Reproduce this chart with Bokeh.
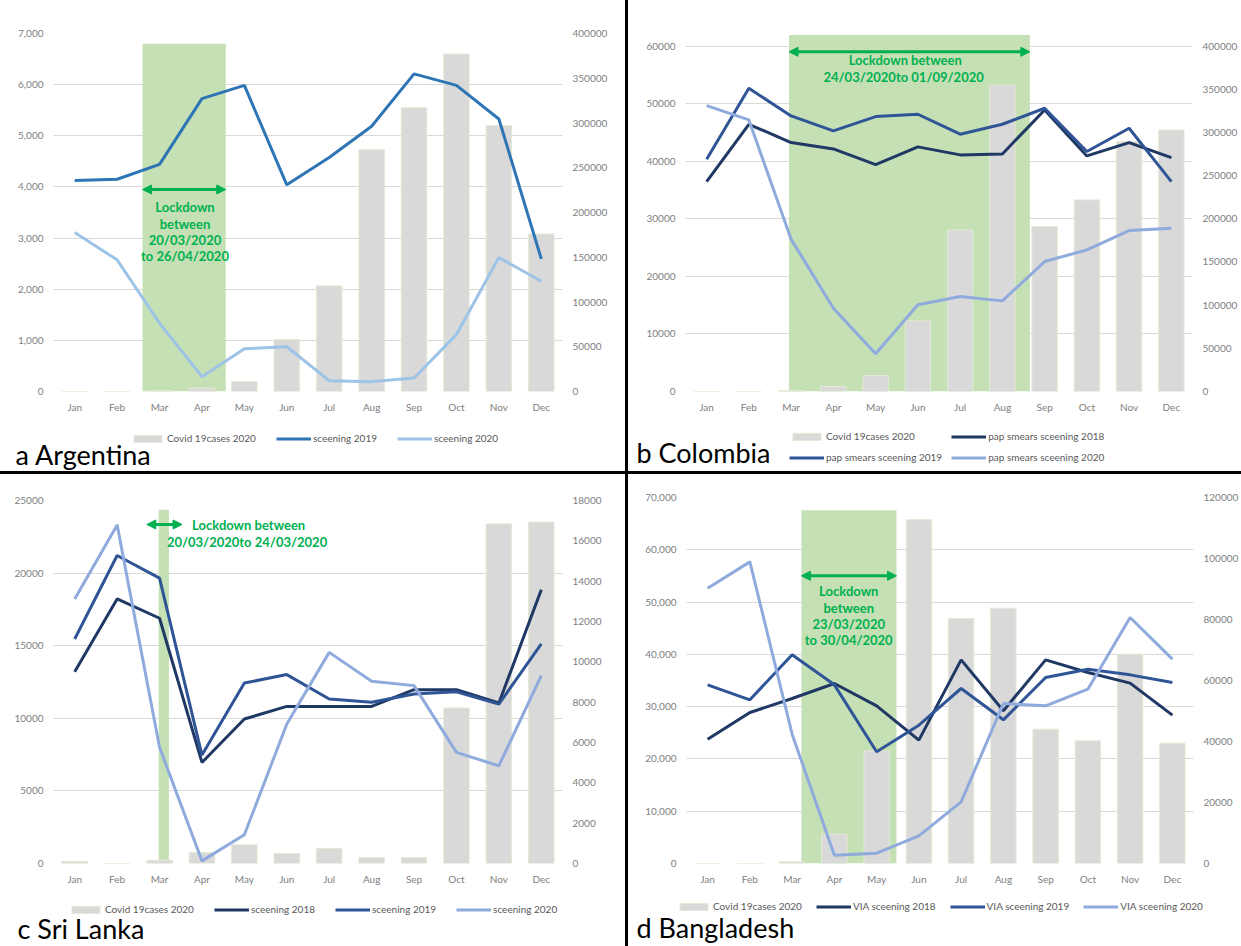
from bokeh.plotting import figure
from bokeh.models import (FactorRange, Range1d, LinearAxis, FixedTicker, NumeralTickFormatter,
                          BasicTickFormatter, Legend, LegendItem, Label, Arrow, NormalHead, Div)
from bokeh.layouts import row, column
from bokeh.embed import file_html
from bokeh.resources import INLINE

# ---------------- data ----------------
months = ["Jan", "Feb", "Mar", "Apr", "May", "Jun", "Jul", "Aug", "Sep", "Oct", "Nov", "Dec"]

# a Argentina
arg_covid_cases_2020 = [0, 0, 1000, 4000, 11000, 58000, 118000, 270000, 317000, 377000, 297000, 176000]
arg_screening_2019 = [4125, 4150, 4440, 5727, 5985, 4041, 4575, 5187, 6210, 5985, 5328, 2593]
arg_screening_2020 = [3108, 2574, 1338, 290, 836, 875, 212, 193, 264, 1113, 2619, 2156]

# b Colombia
col_covid_cases_2020 = [0, 0, 1000, 5800, 18500, 81800, 187000, 354900, 190900, 221800, 289300, 302800]
col_pap_2018 = [36460, 46410, 43230, 42130, 39410, 42480, 41090, 41260, 48900, 40910, 43230, 40620]
col_pap_2019 = [40330, 52660, 47860, 45250, 47740, 48150, 44680, 46410, 49190, 41670, 45720, 36460]
col_pap_2020 = [49650, 47160, 26450, 14470, 6540, 15050, 16490, 15740, 22570, 24600, 27950, 28360]

# c Sri Lanka
sl_covid_cases_2020 = [100, 0, 165, 546, 927, 496, 745, 298, 298, 7710, 16840, 16930]
sl_screening_2018 = [13210, 18220, 16890, 6960, 9950, 10820, 10820, 10820, 11970, 11970, 11050, 18860]
sl_screening_2019 = [15460, 21210, 19650, 7470, 12430, 13010, 11330, 11100, 11670, 11830, 10980, 15120]
sl_screening_2020 = [18220, 23320, 8000, 180, 1980, 9600, 14540, 12550, 12250, 7650, 6730, 12940]

# d Bangladesh
bd_covid_cases_2020 = [0, 0, 550, 9620, 36940, 112700, 80330, 83720, 44040, 40220, 68630, 39450]
bd_via_2018 = [23780, 28880, 31560, 34430, 30150, 23590, 38950, 29200, 38950, 36530, 34490, 28370]
bd_via_2019 = [34170, 31300, 39910, 34170, 21360, 26460, 33470, 27480, 35570, 37170, 36080, 34620]
bd_via_2020 = [52660, 57690, 24740, 1590, 1980, 5290, 11790, 30600, 30150, 33340, 47050, 39080]

# ---------------- styles ----------------
FONT = "Lato"
GREEN = "#00b050"
BOX_GREEN = "#c5e0b4"
BAR_GREY = "#d9d9d9"
BAR_EDGE = "#e3e9d4"
C2018 = "#1f3864"
C2019 = "#2f5597"
C2020 = "#8faadc"
A2019 = "#2e75b6"
A2020 = "#9dc3e6"
BAR_LABEL = "Covid 19cases 2020"
AXIS_H = 28


def make_panel(cfg):
    # ---- main chart ----
    p = figure(x_range=FactorRange(*months), y_range=Range1d(0, cfg["left_end"]),
               frame_width=cfg["fw"], frame_height=cfg["fh"], output_backend="svg",
               toolbar_location=None, min_border_left=cfg["bl"],
               min_border_right=cfg["width"] - cfg["bl"] - cfg["fw"],
               min_border_top=cfg["bt"], min_border_bottom=AXIS_H, frame_align=False)
    right_end = cfg["right_max"] * cfg["left_end"] / cfg["left_max"]
    p.extra_y_ranges = {"right": Range1d(0, right_end)}
    p.outline_line_color = None

    lt = FixedTicker(ticks=cfg["left_ticks"])
    p.yaxis.ticker = lt
    p.yaxis.formatter = NumeralTickFormatter(format="0,0") if cfg["commas"] else BasicTickFormatter(use_scientific=False)
    ra = LinearAxis(y_range_name="right", ticker=FixedTicker(ticks=cfg["right_ticks"]),
                    formatter=BasicTickFormatter(use_scientific=False))
    p.add_layout(ra, "right")
    for ax in [p.xaxis[0], p.yaxis[0], ra]:
        ax.axis_line_color = None
        ax.major_tick_line_color = None
        ax.minor_tick_line_color = None
        ax.major_tick_out = 0
        ax.major_tick_in = 0
        ax.minor_tick_out = 0
        ax.minor_tick_in = 0
        ax.major_label_text_color = "#808080"
        ax.major_label_text_font = FONT
        ax.major_label_text_font_size = "10px"
        ax.major_label_standoff = 10
    p.xaxis.major_label_standoff = 9
    p.xgrid.grid_line_color = None
    p.ygrid.ticker = lt
    p.ygrid.grid_line_color = "#d9d9d9"
    p.ygrid.grid_line_width = 1

    lk = cfg["lockdown"]
    p.quad(left=lk["left"], right=lk["right"], bottom=0, top=lk["top"],
           fill_color=BOX_GREEN, line_color=None)
    p.vbar(x=months, top=cfg["bars"], width=0.6, y_range_name="right",
           fill_color=BAR_GREY, line_color=BAR_EDGE, line_width=1)
    for vals, color, lab in cfg["lines"]:
        p.line(x=months, y=vals, line_color=color, line_width=3)

    head = dict(size=9, fill_color=GREEN, line_color=GREEN)
    p.add_layout(Arrow(start=NormalHead(**head), end=NormalHead(**head),
                       x_start=lk["aleft"], x_end=lk["aright"], y_start=lk["ay"], y_end=lk["ay"],
                       line_color=GREEN, line_width=3))
    for txt, ty in zip(lk["text"], lk["ty"]):
        p.add_layout(Label(x=lk["tx"], y=ty, text=txt, text_align="center", text_baseline="middle",
                           text_color=GREEN, text_font=FONT, text_font_style="bold",
                           text_font_size="13px"))

    # ---- legend + panel label strip (series kept far outside the view, used as legend keys) ----
    W = cfg["width"]
    H = cfg["height"] - (cfg["bt"] + cfg["fh"] + AXIS_H)
    q = figure(x_range=FactorRange(*months), y_range=Range1d(1e9, 2e9), width=W, height=H,
               output_backend="svg", toolbar_location=None, min_border=0,
               x_axis_type=None, y_axis_type=None, frame_align=False)
    q.outline_line_color = None
    q.grid.visible = False
    q.background_fill_color = None
    q.border_fill_color = None
    items = []
    rb = q.vbar(x=months, top=cfg["bars"], width=0.6, fill_color=BAR_GREY,
                line_color=BAR_EDGE, line_width=1)
    items.append(LegendItem(label=BAR_LABEL, renderers=[rb]))
    for vals, color, lab in cfg["lines"]:
        rl = q.line(x=months, y=vals, line_color=color, line_width=3)
        items.append(LegendItem(label=lab, renderers=[rl]))
    legend = Legend(items=items, orientation="horizontal", location=cfg["lloc"],
                    label_text_font=FONT, label_text_font_size="10px", label_text_color="#595959",
                    label_standoff=2, spacing=cfg["lspacing"], padding=4, margin=0,
                    border_line_color=None, background_fill_alpha=0,
                    glyph_width=35, glyph_height=9, label_height=12)
    if cfg["lrows"] == 2:
        legend.ncols = 2
    q.add_layout(legend)
    q.add_layout(Label(x=cfg["label_x"], y=cfg["label_y"], x_units="screen", y_units="screen",
                       text=cfg["label"], text_font=FONT,
                       text_font_size="27px", text_color="black", text_baseline="middle"))
    return column(p, q)


pa = make_panel(dict(
    width=625, height=471, fw=509, fh=358, bl=53, bt=33,
    left_end=7000, left_max=7000, left_ticks=list(range(0, 7001, 1000)), commas=True,
    right_max=400000, right_ticks=list(range(0, 400001, 50000)),
    bars=arg_covid_cases_2020,
    lines=[(arg_screening_2019, A2019, "sceening 2019"), (arg_screening_2020, A2020, "sceening 2020")],
    lockdown=dict(left=2.1, right=4.06, top=6800, aleft=2.1, aright=4.06, ay=3950, tx=3.1,
                  text=["Lockdown", "between", "20/03/2020", "to 26/04/2020"],
                  ty=[3610, 3280, 2960, 2640]),
    lspacing=20, lloc=(130, 27), lrows=1,
    label="a Argentina", label_x=15, label_y=17))

pb = make_panel(dict(
    width=613, height=471, fw=507, fh=357, bl=57, bt=34,
    left_end=62000, left_max=60000, left_ticks=list(range(0, 60001, 10000)), commas=False,
    right_max=400000, right_ticks=list(range(0, 400001, 50000)),
    bars=col_covid_cases_2020,
    lines=[(col_pap_2018, C2018, "pap smears sceening 2018"),
           (col_pap_2019, C2019, "pap smears sceening 2019"),
           (col_pap_2020, C2020, "pap smears sceening 2020")],
    lockdown=dict(left=2.45, right=8.15, top=61900, aleft=2.45, aright=8.15, ay=59000, tx=5.2,
                  text=["Lockdown between", "24/03/2020to  01/09/2020"],
                  ty=[57500, 54600]),
    lspacing=9, lloc=(161, 8), lrows=2,
    label="b Colombia", label_x=8, label_y=19))

pc = make_panel(dict(
    width=625, height=472, fw=509, fh=363, bl=53, bt=26,
    left_end=25000, left_max=25000, left_ticks=list(range(0, 25001, 5000)), commas=False,
    right_max=18000, right_ticks=list(range(0, 18001, 2000)),
    bars=sl_covid_cases_2020,
    lines=[(sl_screening_2018, C2018, "sceening 2018"),
           (sl_screening_2019, C2019, "sceening 2019"),
           (sl_screening_2020, C2020, "sceening 2020")],
    lockdown=dict(left=2.48, right=2.72, top=24360, aleft=2.2, aright=3.03, ay=23350, tx=4.6,
                  text=["Lockdown between", "20/03/2020to  24/03/2020"],
                  ty=[23280, 22130]),
    lspacing=20, lloc=(68, 31), lrows=1,
    label="c Sri Lanka", label_x=17, label_y=18))

pd_ = make_panel(dict(
    width=613, height=472, fw=507, fh=366, bl=58, bt=23,
    left_end=70000, left_max=70000, left_ticks=list(range(0, 70001, 10000)), commas=True,
    right_max=120000, right_ticks=list(range(0, 120001, 20000)),
    bars=bd_covid_cases_2020,
    lines=[(bd_via_2018, C2018, "VIA sceening 2018"),
           (bd_via_2019, C2019, "VIA sceening 2019"),
           (bd_via_2020, C2020, "VIA sceening 2020")],
    lockdown=dict(left=2.72, right=4.97, top=67580, aleft=2.72, aright=4.97, ay=55020, tx=3.84,
                  text=["Lockdown", "between", "23/03/2020", "to 30/04/2020"],
                  ty=[52150, 48960, 45770, 42780]),
    lspacing=14, lloc=(48, 34), lrows=1,
    label="d Bangladesh", label_x=8, label_y=19))

v1 = Div(text="", width=3, height=471, margin=0, styles={"background-color": "black"})
v2 = Div(text="", width=3, height=472, margin=0, styles={"background-color": "black"})
h1 = Div(text="", width=1241, height=3, margin=0, styles={"background-color": "black"})

layout = column(row(pa, v1, pb), h1, row(pc, v2, pd_))
open("out.html", "w").write(file_html(layout, INLINE))
